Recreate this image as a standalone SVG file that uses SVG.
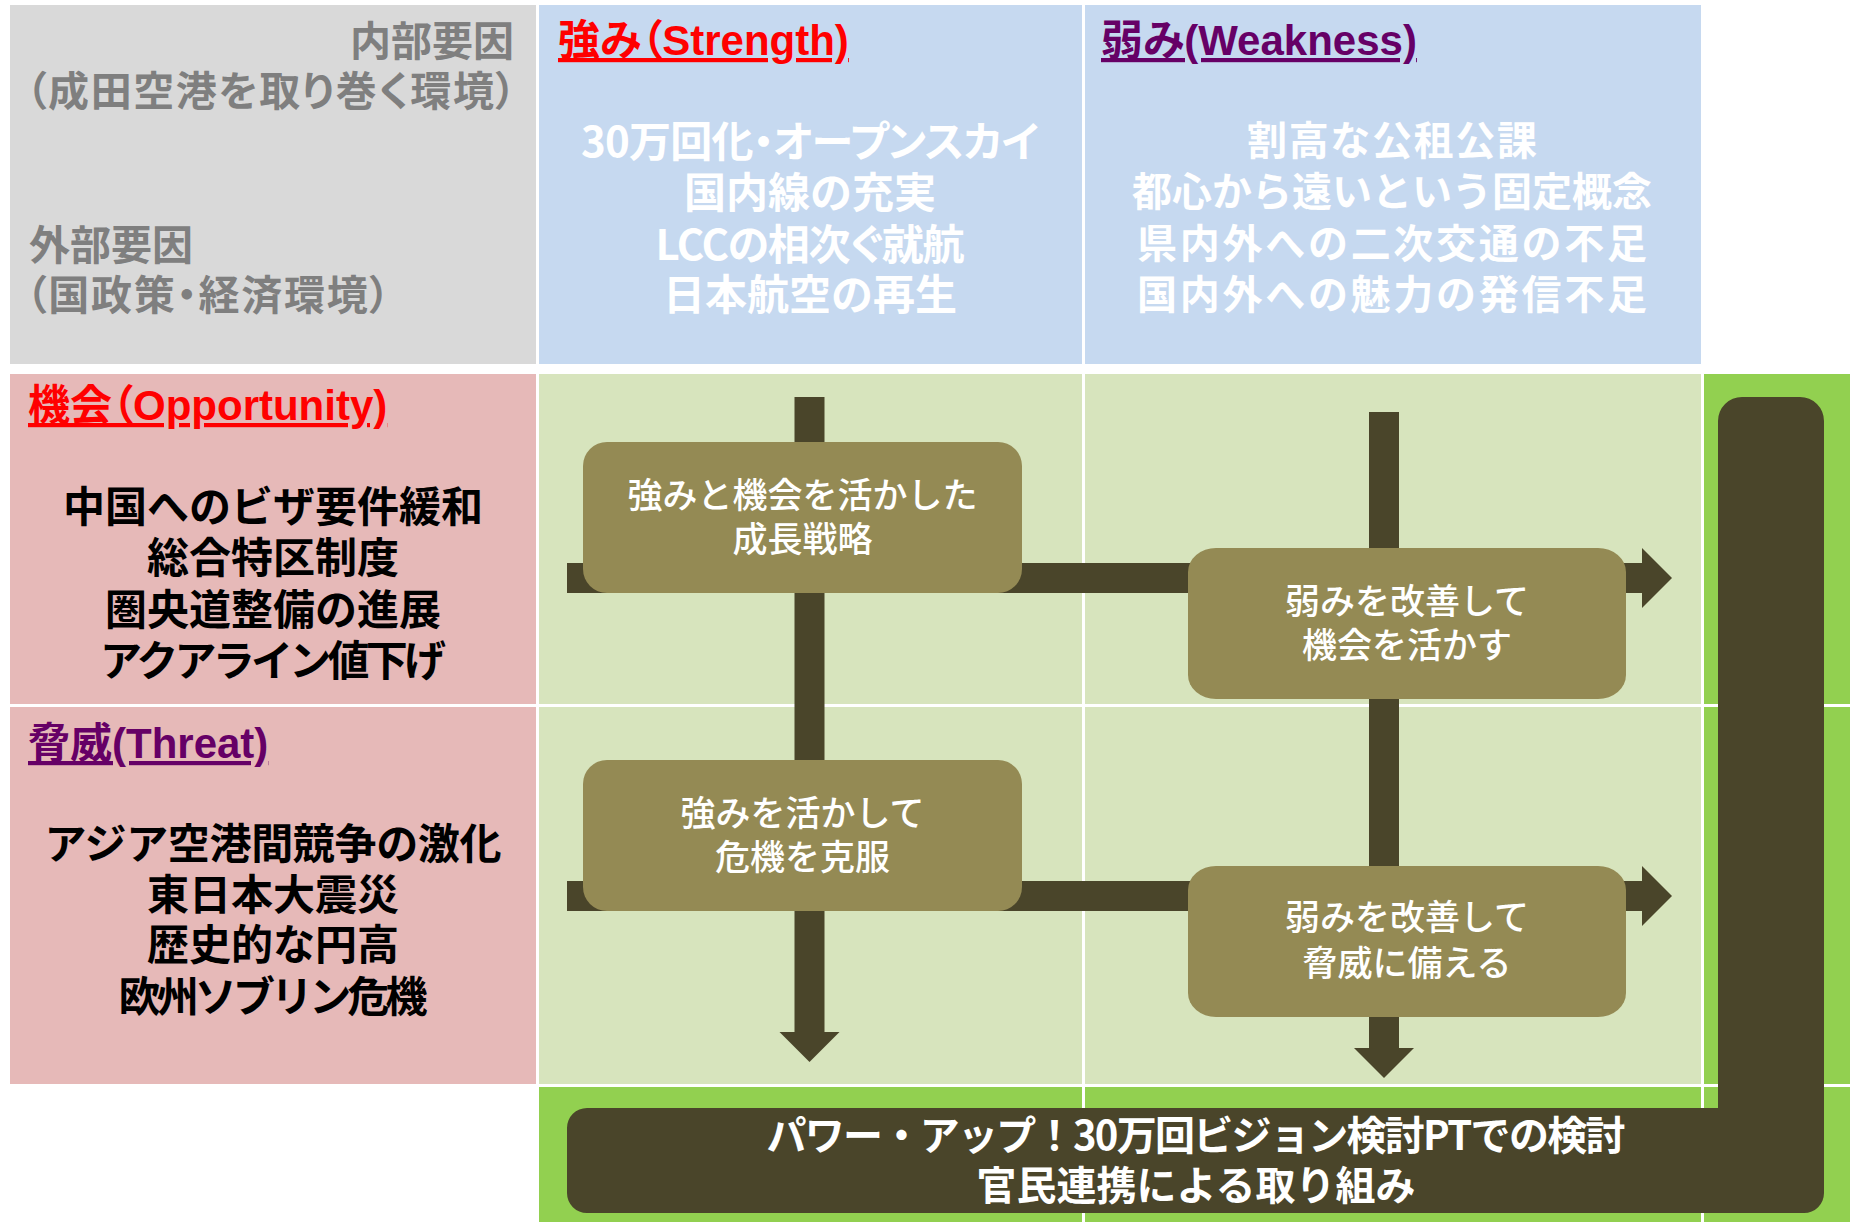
<svg xmlns="http://www.w3.org/2000/svg" width="1850" height="1222" viewBox="0 0 1850 1222">
<style>
.cjk{font-family:"Noto Sans CJK JP","Noto Sans",sans-serif}
.gray{fill:#7F7F7F;font-size:41px;font-weight:bold;font-family:"Noto Sans CJK JP",sans-serif;font-feature-settings:"palt";dominant-baseline:central}
.list{font-family:"Noto Sans CJK JP",sans-serif;font-weight:bold;text-anchor:middle;dominant-baseline:central}
.palt{font-feature-settings:"palt"}
.white{fill:#FFFFFF}
.black{fill:#000000}
.title{font-family:"Liberation Sans","Noto Sans CJK JP",sans-serif;font-weight:bold;text-decoration:underline;font-feature-settings:"palt"}
.red{fill:#FF0000}
.purple{fill:#660066}
.box{fill:#948A54}
.boxtxt{font-family:"Noto Sans CJK JP",sans-serif;font-weight:500;font-size:35px;fill:#FFFFFF;text-anchor:middle;dominant-baseline:central}
.bar{stroke:#4A452A;stroke-width:30;fill:none}
</style>
<defs>
<marker id="head" markerUnits="strokeWidth" markerWidth="1" markerHeight="2" viewBox="0 0 1 2" refX="0" refY="1" orient="auto" overflow="visible">
<path d="M0,0 L1,1 L0,2 Z" fill="#4A452A"/>
</marker>
</defs>
<rect width="1850" height="1222" fill="#FFFFFF"/>
<g id="grid">
<rect x="10" y="5" width="526" height="359" fill="#D9D9D9"/>
<rect x="539" y="5" width="543" height="359" fill="#C6D9F0"/>
<rect x="1085" y="5" width="616" height="359" fill="#C6D9F0"/>
<rect x="10" y="374" width="526" height="330" fill="#E6B9B8"/>
<rect x="539" y="374" width="543" height="330" fill="#D7E4BD"/>
<rect x="1085" y="374" width="616" height="330" fill="#D7E4BD"/>
<rect x="1704" y="374" width="146" height="330" fill="#92D050"/>
<rect x="10" y="707" width="526" height="377" fill="#E6B9B8"/>
<rect x="539" y="707" width="543" height="377" fill="#D7E4BD"/>
<rect x="1085" y="707" width="616" height="377" fill="#D7E4BD"/>
<rect x="1704" y="707" width="146" height="377" fill="#92D050"/>
<rect x="539" y="1087" width="543" height="135" fill="#92D050"/>
<rect x="1085" y="1087" width="616" height="135" fill="#92D050"/>
<rect x="1704" y="1087" width="146" height="135" fill="#92D050"/>
</g>
<g id="header">
<text class="gray" x="514" y="38" text-anchor="end">内部要因</text>
<text class="gray" x="26" y="87.5" textLength="490">（成田空港を取り巻く環境）</text>
<text class="gray" x="29" y="242">外部要因</text>
<text class="gray" x="26" y="291.5" textLength="364">（国政策・経済環境）</text>
</g>
<g id="strength">
<text class="title red" x="558" y="55" font-size="42">強み（Strength)</text>
<text class="list white palt" x="810" y="138" font-size="42" textLength="458">30万回化・オープンスカイ</text>
<text class="list white" x="810" y="189" font-size="42">国内線の充実</text>
<text class="list white palt" x="810" y="241" font-size="42" textLength="309">LCCの相次ぐ就航</text>
<text class="list white" x="810" y="291.5" font-size="42">日本航空の再生</text>
</g>
<g id="weakness">
<text class="title purple" x="1101" y="55" font-size="42">弱み(Weakness)</text>
<text class="list white" x="1392" y="138" font-size="40" textLength="290">割高な公租公課</text>
<text class="list white" x="1392" y="189" font-size="40">都心から遠いという固定概念</text>
<text class="list white" x="1392" y="241" font-size="40" textLength="510">県内外への二次交通の不足</text>
<text class="list white" x="1392" y="291.5" font-size="40" textLength="510">国内外への魅力の発信不足</text>
</g>
<g id="opportunity">
<text class="title red" x="28" y="420" font-size="42">機会（Opportunity)</text>
<text class="list black" x="273" y="503.5" font-size="42">中国へのビザ要件緩和</text>
<text class="list black" x="273" y="554.5" font-size="42">総合特区制度</text>
<text class="list black" x="273" y="606.5" font-size="42">圏央道整備の進展</text>
<text class="list black" x="273" y="657.5" font-size="42" textLength="346">アクアライン値下げ</text>
</g>
<g id="threat">
<text class="title purple" x="28" y="758" font-size="42">脅威(Threat)</text>
<text class="list black" x="273" y="840" font-size="42" textLength="457">アジア空港間競争の激化</text>
<text class="list black" x="273" y="891" font-size="42">東日本大震災</text>
<text class="list black" x="273" y="941.5" font-size="42">歴史的な円高</text>
<text class="list black" x="273" y="993.5" font-size="42" textLength="309">欧州ソブリン危機</text>
</g>
<g id="connectors">
<line class="bar" x1="809.5" y1="397" x2="809.5" y2="1032" marker-end="url(#head)"/>
<line class="bar" x1="1384" y1="412" x2="1384" y2="1048" marker-end="url(#head)"/>
<line class="bar" x1="567" y1="578" x2="1642" y2="578" marker-end="url(#head)"/>
<line class="bar" x1="567" y1="896" x2="1642" y2="896" marker-end="url(#head)"/>
</g>
<g id="node-so">
<rect class="box" x="583" y="442" width="439" height="151" rx="24"/>
<text class="boxtxt" x="802.5" y="492">強みと機会を活かした</text>
<text class="boxtxt" x="802.5" y="536">成長戦略</text>
</g>
<g id="node-wo">
<rect class="box" x="1188" y="548" width="438" height="151" rx="28" ry="24"/>
<text class="boxtxt" x="1407" y="598">弱みを改善して</text>
<text class="boxtxt" x="1407" y="642">機会を活かす</text>
</g>
<g id="node-st">
<rect class="box" x="583" y="760" width="439" height="151" rx="24"/>
<text class="boxtxt" x="802.5" y="810.5">強みを活かして</text>
<text class="boxtxt" x="802.5" y="854.5">危機を克服</text>
</g>
<g id="node-wt">
<rect class="box" x="1188" y="866" width="438" height="151" rx="28" ry="24"/>
<text class="boxtxt" x="1407" y="914.5">弱みを改善して</text>
<text class="boxtxt" x="1407" y="960.5">脅威に備える</text>
</g>
<g id="node-powerup">
<path d="M587,1108 H1718 V421 A24,24 0 0 1 1742,397 H1800 A24,24 0 0 1 1824,421 V1193 A20,20 0 0 1 1804,1213 H587 A20,20 0 0 1 567,1193 V1128 A20,20 0 0 1 587,1108 Z" fill="#4A452A"/>
<text class="cjk" x="1196" y="1132.5" font-size="40" font-weight="bold" fill="#FFFFFF" text-anchor="middle" dominant-baseline="central" textLength="859">パワー・アップ！30万回ビジョン検討PTでの検討</text>
<text class="cjk" x="1196" y="1182.5" font-size="40" font-weight="bold" fill="#FFFFFF" text-anchor="middle" dominant-baseline="central">官民連携による取り組み</text>
</g>
</svg>
